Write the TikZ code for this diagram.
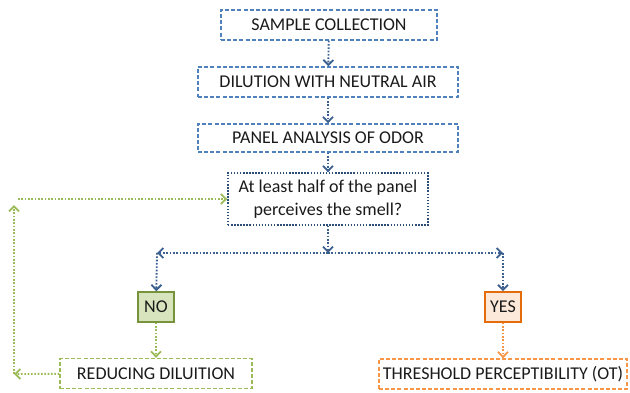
\documentclass[tikz,border=0pt]{standalone}
\usepackage{fontspec}
\setmainfont{Carlito}
\usepackage{xcolor}
\usetikzlibrary{arrows.meta}

\definecolor{boxblue}{HTML}{4F81BD}
\definecolor{arrowblue}{HTML}{3B5F8F}
\definecolor{askblue}{HTML}{2C4D75}
\definecolor{leafgreen}{HTML}{9BBB59}
\definecolor{darkgreen}{HTML}{77933C}
\definecolor{fillgreen}{HTML}{D7E4BD}
\definecolor{leaforange}{HTML}{F79646}
\definecolor{darkorange}{HTML}{E46C0A}
\definecolor{fillorange}{HTML}{FDE9D9}
\definecolor{inkgray}{HTML}{1A1A1A}

\tikzset{
    label font/.style={font=\fontsize{13.5}{17}\selectfont, text=inkgray},
    stepbox/.style={draw=boxblue, line width=1.1pt, dash pattern=on 3pt off 1.6pt,
        minimum height=22.5pt, inner sep=0pt, label font},
    askbox/.style={draw=askblue, line width=1.1pt, dash pattern=on 1.1pt off 1.2pt,
        minimum width=150pt, minimum height=39pt, inner sep=0pt, align=center, label font},
    nobox/.style={draw=darkgreen, fill=fillgreen, line width=1.2pt,
        minimum width=27pt, minimum height=22.5pt, inner sep=0pt, label font},
    yesbox/.style={draw=darkorange, fill=fillorange, line width=1.2pt,
        minimum width=27pt, minimum height=22.5pt, inner sep=0pt, label font},
    greenbox/.style={stepbox, draw=leafgreen},
    orangebox/.style={stepbox, draw=leaforange},
    flow/.style={draw=arrowblue, line width=1.4pt, dash pattern=on 1.2pt off 1.3pt,
        -{Straight Barb[length=3.8pt,width=7.5pt]}},
    greenflow/.style={flow, draw=leafgreen},
    orangeflow/.style={flow, draw=leaforange},
}

\begin{document}
\begin{tikzpicture}[x=0.75pt, y=-0.75pt]
    \useasboundingbox (0, 0) rectangle (630, 392);

    \node[stepbox, minimum width=162pt] at (329, 25) (collect) {SAMPLE COLLECTION};
    \node[stepbox, minimum width=195pt] at (328, 82) (dilute) {DILUTION WITH NEUTRAL AIR};
    \node[stepbox, minimum width=195pt, minimum height=21pt] at (328, 138) (panel) {PANEL ANALYSIS OF ODOR};
    \node[askbox] at (328, 199) (ask) {At least half of the panel\\perceives the smell?};
    \node[nobox] at (156, 307) (no) {NO};
    \node[yesbox] at (503, 307) (yes) {YES};
    \node[greenbox, minimum width=144pt] at (156, 373.5) (reduce) {REDUCING DILUITION};
    \node[orangebox, minimum width=186pt] at (503, 374) (threshold) {THRESHOLD PERCEPTIBILITY (OT)};

    \coordinate (split) at (328, 253);
    \coordinate (noturn) at (157, 253);
    \coordinate (yesturn) at (503, 253);
    \coordinate (backlow) at (14, 374);
    \coordinate (backtop) at (14, 205);
    \coordinate (backstart) at (18, 199);

    \draw[flow] (collect) -- (dilute);
    \draw[flow] (dilute) -- (panel);
    \draw[flow] (panel) -- (ask);
    \draw[flow] (ask) -- (split);
    \draw[flow] (split) -- (noturn);
    \draw[flow] (split) -- (yesturn);
    \draw[flow] (noturn) -- (no);
    \draw[flow] (yesturn) -- (yes);
    \draw[greenflow] (no) -- (reduce);
    \draw[orangeflow] (yes) -- (threshold);
    \draw[greenflow] (reduce) -- (backlow);
    \draw[greenflow] (backlow) -- (backtop);
    \draw[greenflow] (backstart) -- (ask);
\end{tikzpicture}
\end{document}
